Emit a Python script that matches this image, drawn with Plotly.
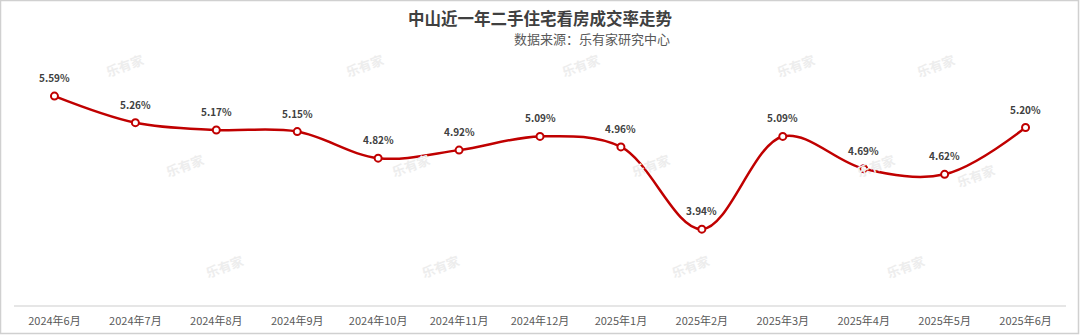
import plotly.graph_objects as go

months = ["2024年6月", "2024年7月", "2024年8月", "2024年9月", "2024年10月", "2024年11月",
          "2024年12月", "2025年1月", "2025年2月", "2025年3月", "2025年4月", "2025年5月", "2025年6月"]
rates = [5.59, 5.26, 5.17, 5.15, 4.82, 4.92, 5.09, 4.96, 3.94, 5.09, 4.69, 4.62, 5.20]
labels = [f"{v:.2f}%" for v in rates]

W, H = 1080, 335
ML, MR, MT, MB = 14, 14, 63, 30
PW, PH = W - ML - MR, H - MT - MB

font = "Noto Sans CJK SC, Microsoft YaHei, sans-serif"

fig = go.Figure()
fig.add_trace(go.Scatter(
    x=months, y=rates, mode="lines+markers",
    line=dict(color="#C00000", width=2.5, shape="spline", smoothing=1.0),
    marker=dict(size=7, color="white", line=dict(color="#C00000", width=2)),
    cliponaxis=False, hoverinfo="skip",
))

annotations = []
# watermarks
wm = [(100, 47), (340, 47), (580, 47), (820, 47), (960, 47),
      (160, 165), (410, 165), (650, 165), (900, 165), (1000, 175),
      (200, 285), (440, 285), (690, 285), (930, 285)]
for (px, py) in wm:
    annotations.append(dict(
        x=(px - ML) / PW, y=1 - (py - MT) / PH, xref="paper", yref="paper",
        text="<b>乐有家</b>", showarrow=False, textangle=-20,
        font=dict(family=font, size=13, color="#EDEDED")))

# value labels
for m, v, t in zip(months, rates, labels):
    annotations.append(dict(
        x=m, y=v, xref="x", yref="y", text=f"<b>{t}</b>", showarrow=False,
        yanchor="bottom", yshift=9,
        font=dict(family=font, size=10, color="#404040")))

annotations.append(dict(
    x=0.5, y=1 + (MT - 18) / PH, xref="paper", yref="paper", xanchor="center", yanchor="middle",
    text="<b>中山近一年二手住宅看房成交率走势</b>", showarrow=False,
    font=dict(family=font, size=16.5, color="#404040")))
annotations.append(dict(
    x=(672 - ML) / PW, y=1 + (MT - 39) / PH, xref="paper", yref="paper", xanchor="right", yanchor="middle",
    text="数据来源：乐有家研究中心", showarrow=False,
    font=dict(family=font, size=13, color="#595959")))

shapes = [dict(type="rect", xref="paper", yref="paper",
               x0=-(ML - 0.5) / PW, x1=1 + (MR - 1.5) / PW,
               y0=-(MB - 1.5) / PH, y1=1 + (MT - 0.5) / PH,
               line=dict(color="#D0D0D0", width=1.5), fillcolor="rgba(0,0,0,0)", layer="below")]

fig.update_layout(
    width=W, height=H,
    margin=dict(l=ML, r=MR, t=MT, b=MB, autoexpand=False),
    paper_bgcolor="white", plot_bgcolor="white",
    showlegend=False,
    annotations=annotations,
    shapes=shapes,
    xaxis=dict(type="category", range=[-0.5, len(months) - 0.5], showgrid=False, showline=True,
               linecolor="#E6E6E6", linewidth=2, ticks="", ticklabelstandoff=5, automargin=False,
               tickfont=dict(family=font, size=11, color="#595959"), fixedrange=True),
    yaxis=dict(range=[3.0, 6.0], visible=False, showgrid=False, zeroline=False, fixedrange=True,
               automargin=False),
)

fig.write_html("out.html", config={"displayModeBar": False})
